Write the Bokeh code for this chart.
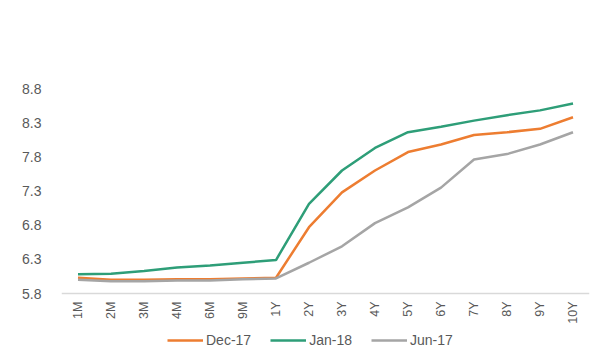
import math
from bokeh.plotting import figure
from bokeh.models import Legend, LegendItem, Range1d, FixedTicker
from bokeh.embed import file_html
from bokeh.resources import INLINE

tenors = ["1M", "2M", "3M", "4M", "6M", "9M", "1Y", "2Y", "3Y", "4Y", "5Y", "6Y", "7Y", "8Y", "9Y", "10Y"]
dec17 = [6.03, 6.00, 6.00, 6.01, 6.01, 6.02, 6.03, 6.77, 7.28, 7.60, 7.87, 7.98, 8.12, 8.16, 8.21, 8.38]
jan18 = [6.08, 6.09, 6.13, 6.18, 6.21, 6.25, 6.29, 7.11, 7.60, 7.93, 8.16, 8.24, 8.33, 8.41, 8.48, 8.58]
jun17 = [6.00, 5.98, 5.98, 5.99, 5.99, 6.01, 6.02, 6.25, 6.49, 6.83, 7.06, 7.35, 7.76, 7.84, 7.98, 8.16]
y_ticks = [5.8, 6.3, 6.8, 7.3, 7.8, 8.3, 8.8]

FONT = "Liberation Sans"
TXT = "#595959"

# frame spans from the top margin down to the page bottom; 5.8 sits 56px above it
y_top, y_base = 8.8, 5.8
y_start = y_base - 56 * (y_top - y_base) / 205

p = figure(frame_width=528, frame_height=261, x_range=tenors, y_range=Range1d(y_start, y_top),
           output_backend="svg", toolbar_location=None,
           min_border_left=61, min_border_right=12, min_border_top=88, min_border_bottom=0)
p.outline_line_color = None
p.xgrid.grid_line_color = None
p.ygrid.grid_line_color = None

r1 = p.line(tenors, dec17, line_color="#ED7D31", line_width=2.5)
r2 = p.line(tenors, jan18, line_color="#2E9E78", line_width=2.5)
r3 = p.line(tenors, jun17, line_color="#A5A5A5", line_width=2.5)

p.yaxis.ticker = FixedTicker(ticks=y_ticks)
p.yaxis.axis_line_color = None
p.yaxis.major_tick_line_color = None
p.yaxis.minor_tick_line_color = None
p.yaxis.major_label_text_font = FONT
p.yaxis.major_label_text_font_size = "14px"
p.yaxis.major_label_text_color = TXT
p.yaxis.major_label_standoff = 14

p.xaxis.fixed_location = y_base
p.xaxis.axis_line_color = "#D9D9D9"
p.xaxis.axis_line_width = 1.5
p.xaxis.major_tick_line_color = None
p.xaxis.minor_tick_line_color = None
p.xaxis.major_tick_out = 0
p.xaxis.major_tick_in = 0
p.xaxis.major_label_orientation = math.pi / 2
p.xaxis.major_label_text_font = FONT
p.xaxis.major_label_text_font_size = "12.5px"
p.xaxis.major_label_text_color = TXT
p.xaxis.major_label_standoff = 8

legend = Legend(items=[LegendItem(label="Dec-17", renderers=[r1]),
                       LegendItem(label="Jan-18", renderers=[r2]),
                       LegendItem(label="Jun-17", renderers=[r3])],
                orientation="horizontal", location=(106, 1),
                label_text_font=FONT, label_text_font_size="14px", label_text_color=TXT,
                glyph_width=36, glyph_height=12, label_standoff=3, spacing=19,
                label_height=12,
                padding=0, margin=0, border_line_color=None, background_fill_alpha=0)
p.add_layout(legend, "center")

open("out.html", "w").write(file_html(p, INLINE))
